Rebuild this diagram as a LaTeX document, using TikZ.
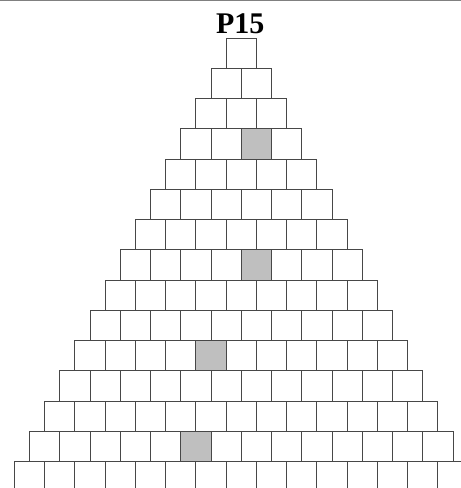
\documentclass[tikz,border=0pt]{standalone}
\usepackage{fontspec}
\setmainfont{Liberation Serif}
\begin{document}
\begin{tikzpicture}[x=1pt,y=-1pt,
  cell/.style={draw=black!72, line width=1pt, minimum size=30.25pt, inner sep=0pt, anchor=north west},
  s4-3/.style={fill=black!25},
  s8-5/.style={fill=black!25},
  s11-5/.style={fill=black!25},
  s14-6/.style={fill=black!25},
  titlefont/.style={font=\bfseries\fontsize{30}{30}\selectfont, inner sep=0pt, anchor=base}]
\useasboundingbox (0,0) rectangle (461,488);
\clip (0,0) rectangle (461,488);
\coordinate (tl) at (0,0.5);
\coordinate (tr) at (461,0.5);
\draw[black!50, line width=1pt] (tl) -- (tr);
\node[titlefont] (title) at (240.3,33.3) {P15};
\foreach \r in {1,...,15} {
  \foreach \c in {1,...,\r} {
    \node[cell, s\r-\c/.try] (c\r-\c) at ({240.8 - \r*15.125 + (\c-1)*30.25}, {37.7 + (\r-1)*30.25}) {};
  }
}
\end{tikzpicture}
\end{document}
